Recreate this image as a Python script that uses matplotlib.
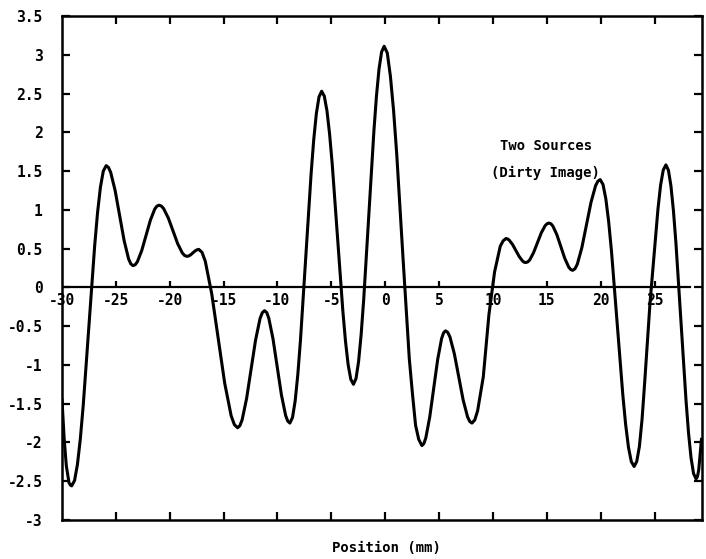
import numpy as np
import matplotlib
matplotlib.use("Agg")
import matplotlib.pyplot as plt

# dirty image profile (position in mm, amplitude)
pos = [-30.0, -29.8, -29.6, -29.35, -29.1,
       -28.567, -28.033, -27.5, -26.967, -26.433, -25.9,
       -25.483, -25.067, -24.65, -24.233, -23.817, -23.4,
       -23.0, -22.6, -22.2, -21.8, -21.4, -21.0,
       -20.567, -20.133, -19.7, -19.267, -18.833, -18.4,
       -18.217, -18.033, -17.85, -17.667, -17.483, -17.3,
       -16.7, -16.1, -15.5, -14.9, -14.3, -13.7,
       -13.283, -12.867, -12.45, -12.033, -11.617, -11.2,
       -10.808, -10.417, -10.025, -9.633, -9.242, -8.85,
       -8.358, -7.867, -7.375, -6.883, -6.392, -5.9,
       -5.408, -4.917, -4.425, -3.933, -3.442, -2.95,
       -2.475, -2.0, -1.525, -1.05, -0.575, -0.1,
       0.483, 1.067, 1.65, 2.233, 2.817, 3.4,
       3.767, 4.133, 4.5, 4.867, 5.233, 5.6,
       6.008, 6.417, 6.825, 7.233, 7.642, 8.05,
       8.575, 9.1, 9.625, 10.15, 10.675, 11.2,
       11.508, 11.817, 12.125, 12.433, 12.742, 13.05,
       13.408, 13.767, 14.125, 14.483, 14.842, 15.2,
       15.567, 15.933, 16.3, 16.667, 17.033, 17.4,
       17.825, 18.25, 18.675, 19.1, 19.525, 19.95,
       20.475, 21.0, 21.525, 22.05, 22.575, 23.1,
       23.592, 24.083, 24.575, 25.067, 25.558, 26.05,
       26.517, 26.983, 27.45, 27.917, 28.383, 28.85,
       29.1, 29.35]
amp = [-1.45, -1.95, -2.30, -2.52, -2.56,
       -2.283, -1.528, -0.495, 0.538, 1.293, 1.57,
       1.484, 1.248, 0.925, 0.603, 0.366, 0.28,
       0.332, 0.475, 0.67, 0.865, 1.008, 1.06,
       1.016, 0.895, 0.73, 0.565, 0.444, 0.40,
       0.406, 0.423, 0.445, 0.468, 0.484, 0.49,
       0.336, -0.085, -0.66, -1.235, -1.656, -1.81,
       -1.709, -1.433, -1.055, -0.678, -0.401, -0.30,
       -0.397, -0.663, -1.025, -1.388, -1.653, -1.75,
       -1.463, -0.68, 0.39, 1.46, 2.243, 2.53,
       2.277, 1.585, 0.64, -0.305, -0.997, -1.25,
       -0.958, -0.16, 0.93, 2.02, 2.818, 3.11,
       2.72, 1.72, 0.38, -0.92, -1.78, -2.04,
       -1.941, -1.67, -1.3, -0.93, -0.659, -0.56,
       -0.64, -0.858, -1.155, -1.453, -1.67, -1.75,
       -1.591, -1.155, -0.35, 0.2, 0.53, 0.63,
       0.609, 0.553, 0.475, 0.398, 0.341, 0.32,
       0.354, 0.448, 0.575, 0.703, 0.796, 0.83,
       0.789, 0.678, 0.525, 0.373, 0.261, 0.22,
       0.298, 0.513, 0.805, 1.098, 1.312, 1.39,
       1.142, 0.465, -0.46, -1.385, -2.062, -2.31,
       -2.049, -1.22, -0.2, 0.608, 1.319, 1.58,
       1.309, 0.568, -0.445, -1.458, -2.199, -2.47,
       -2.35, -1.96]

# extra readings close to the peaks and troughs
pos_fine = [-29.22, -28.833, -28.3, -26.7, -26.167, -25.692,
            -23.608, -23.2, -21.2, -20.783, -18.617, -17.0,
            -14.0, -13.492, -11.408, -10.996, -9.046, -8.604,
            -8.1125, -6.6375, -6.146, -5.654, -5.1625, -3.6875,
            -3.196, -2.7125, -2.2375, -0.8125, -0.3375, 0.192,
            0.775, 2.525, 3.108, 3.583, 5.417, 5.804,
            7.846, 8.3125, 10.94, 11.354, 12.9, 13.229,
            15.021, 15.383, 17.217, 17.6125, 19.7375, 20.2125,
            20.7375, 22.3125, 22.8375, 23.346, 23.8375, 25.3125,
            25.804, 26.283, 26.75, 28.15, 28.617, 28.98]
amp_fine = [-2.55, -2.49, -1.955, 0.965, 1.50, 1.548,
            0.302, 0.293, 1.047, 1.049, 0.411, 0.451,
            -1.771, -1.784, -0.326, -0.325, -1.725, -1.677,
            -1.123, 1.903, 2.457, 2.466, 1.976, -0.696,
            -1.186, -1.176, -0.611, 2.471, 3.036, 3.022,
            2.28, -1.37, -1.96, -2.015, -0.585, -0.58,
            -1.73, -1.709, 0.60, 0.625, 0.324, 0.329,
            0.821, 0.82, 0.23, 0.24, 1.37, 1.327,
            0.848, -1.768, -2.247, -2.244, -1.70, 1.01,
            1.514, 1.511, 0.987, -1.877, -2.401, -2.44]

xticks = [-30, -25, -20, -15, -10, -5, 0, 5, 10, 15, 20, 25]
yticks = [-3, -2.5, -2, -1.5, -1, -0.5, 0, 0.5, 1, 1.5, 2, 2.5, 3, 3.5]
ylabels = ["-3", "-2.5", "-2", "-1.5", "-1", "-0.5", "0", "0.5", "1", "1.5",
           "2", "2.5", "3", "3.5"]

mono = "DejaVu Sans Mono"

x = np.array(pos + pos_fine)
y = np.array(amp + amp_fine)
order = np.argsort(x)
x, y = x[order], y[order]

fig = plt.figure(figsize=(7.06, 5.59), dpi=100)
ax = fig.add_axes([62/706, 1 - 520/559, 640/706, 504/559])

ax.plot(x, y, color="black", lw=2.2, solid_joinstyle="round")

# horizontal zero axis with its own ticks and labels
ax.plot([-30, 28.3], [0, 0], color="black", lw=1.6)
ax.vlines(xticks[1:], 0, 0.08, color="black", lw=1.6)
for v in xticks:
    ax.annotate(str(v), (v, 0), xytext=(0, -4), textcoords="offset points",
                ha="center", va="top", fontsize=10.5, fontweight="bold",
                family=mono)

ax.text(14.9, 1.82, "Two Sources", ha="center", va="center",
        fontsize=10, fontweight="bold", family=mono)
ax.text(14.9, 1.48, "(Dirty Image)", ha="center", va="center",
        fontsize=10, fontweight="bold", family=mono)

ax.set_xlim(-30, 29.4)
ax.set_ylim(-3, 3.5)
ax.set_xticks(xticks[1:])
ax.set_yticks(yticks)
ax.set_yticklabels(ylabels)
ax.tick_params(axis="x", direction="in", top=True, bottom=True,
               labelbottom=False, length=6, width=1.6)
ax.tick_params(axis="y", direction="in", left=True, right=True,
               length=6, width=1.6, pad=14)
for lab in ax.get_yticklabels():
    lab.set_fontfamily(mono)
    lab.set_fontweight("bold")
    lab.set_fontsize(10.5)
for s in ax.spines.values():
    s.set_linewidth(1.8)

fig.text(386/706, 1 - 548/559, "Position (mm)", ha="center", va="center",
         fontsize=10, fontweight="bold", family=mono)

fig.savefig("out.png", dpi=100)
